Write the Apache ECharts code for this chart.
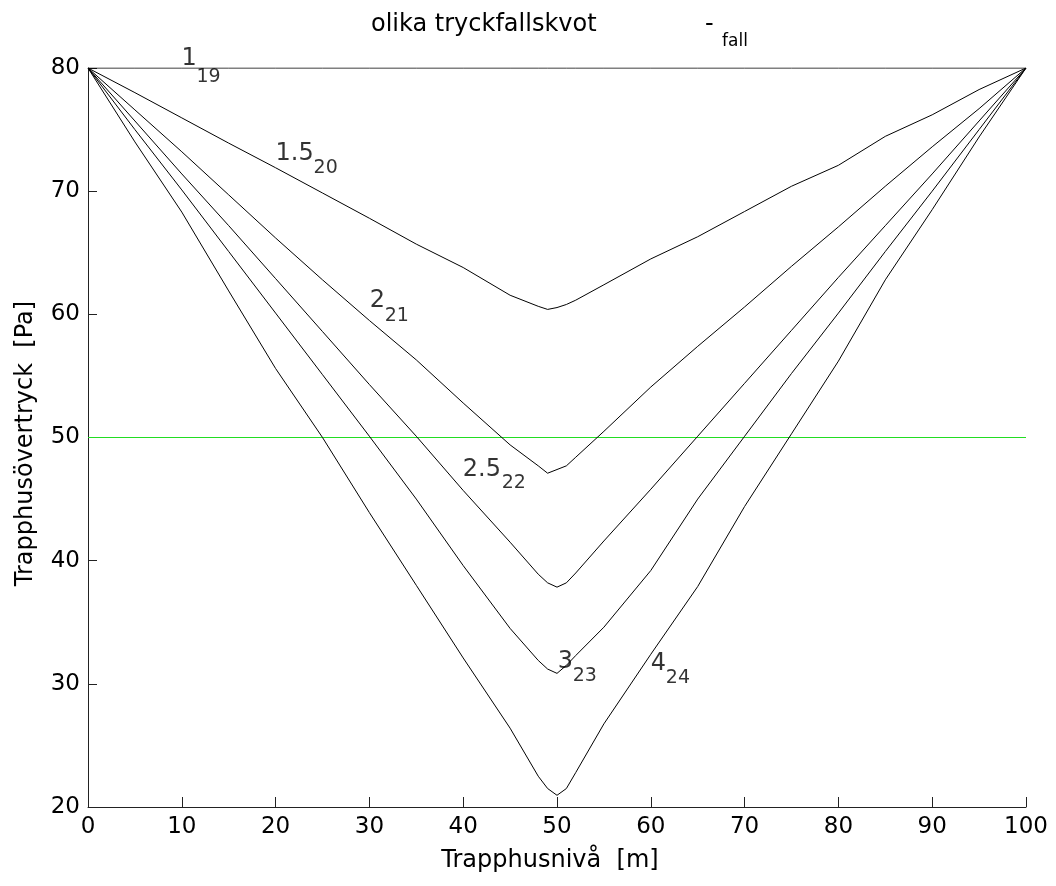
<!DOCTYPE html>
<html>
<head>
<meta charset="utf-8">
<script src="https://cdn.jsdelivr.net/npm/echarts@6/dist/echarts.min.js"></script>
<style>
html,body{margin:0;padding:0;background:#fff;}
#c{width:1056px;height:886px;}
</style>
</head>
<body>
<div id="c"></div>
<script>
const xs = [0,5,10,15,20,25,30,35,40,45,48,49,50,51,52,55,60,65,70,75,80,85,90,95,100];
const r1  = [80,80,80,80,80,80,80,80,80,80,80,80,80,80,80,80,80,80,80,80,80,80,80,80,80];
const r15 = [80,78.0,75.95,73.9,71.9,69.85,67.8,65.7,63.8,61.55,60.65,60.4,60.55,60.8,61.15,62.4,64.5,66.3,68.35,70.4,72.1,74.45,76.2,78.25,80];
const r2  = [80,76.6,73.2,69.7,66.2,62.8,59.5,56.3,52.8,49.4,47.7,47.1,47.4,47.7,48.4,50.5,54.1,57.4,60.6,63.9,67.1,70.4,73.6,76.7,80];
const r25 = [80,75.7,71.4,67.2,62.9,58.6,54.3,50.1,45.7,41.5,38.9,38.2,37.85,38.2,39.0,41.6,45.8,50.1,54.4,58.7,63.0,67.2,71.4,75.7,80];
const r3  = [80,75.0,70.1,65.1,60.1,55.1,50.1,45.0,39.6,34.5,31.9,31.2,30.85,31.5,32.3,34.6,39.2,45.0,50.1,55.2,60.1,65.1,70.0,75.0,80];
const r4  = [80,74.0,68.3,61.9,55.6,50.0,43.9,38.0,32.1,26.4,22.5,21.5,20.95,21.5,22.8,26.75,32.4,37.9,44.4,50.3,56.2,62.8,68.5,74.4,80];
const refLine = [[0,50],[100,50]];
const mainLabels = [[9.97,80.77,'1'],[20.0,73.03,'1.5'],[30.03,61.1,'2'],[39.95,47.36,'2.5'],[50.08,31.8,'3'],[60.0,31.6,'4']];
const subLabels  = [[11.57,79.23,'19'],[24.05,71.85,'20'],[31.63,59.85,'21'],[44.1,46.27,'22'],[51.68,30.66,'23'],[61.6,30.46,'24']];
const xTicks = {min:0, max:100, interval:10};
const yTicks = {min:20, max:80, interval:10};

const FF = '"DejaVu Sans", sans-serif';
function curve(vals){
  return {type:'line', data: xs.map((x,i)=>[x, vals[i]]), symbol:'none', smooth:false,
    lineStyle:{color:'#000', width:1}, z:3, silent:true};
}
function labelSeries(arr, size){
  return {type:'scatter', data: arr, symbolSize:0, z:5, silent:true, clip:false,
    label:{show:true, position:'right', distance:0, formatter:p=>p.data[2],
      fontSize:size, color:'#000', fontFamily:FF}};
}
const chart = echarts.init(document.getElementById('c'), null, {renderer:'canvas'});
chart.setOption({
  animation:false,
  backgroundColor:'#fff',
  title:[
    {text:'olika tryckfallskvot', left:366, top:8, textStyle:{fontSize:24, fontWeight:'normal', color:'#000', fontFamily:FF}},
    {text:'-', left:700, top:8, textStyle:{fontSize:24, fontWeight:'normal', color:'#000', fontFamily:FF}},
    {text:'fall', left:717, top:28, textStyle:{fontSize:17, fontWeight:'normal', color:'#000', fontFamily:FF}}
  ],
  grid:{left:88, right:30, top:68, bottom:79, containLabel:false},
  xAxis:{type:'value', min:xTicks.min, max:xTicks.max, interval:xTicks.interval,
    name:'Trapphusnivå  [m]', nameLocation:'middle', nameGap:42,
    nameTextStyle:{fontSize:24, color:'#000', fontFamily:FF, padding:[0,14,0,0]},
    axisLine:{show:true, lineStyle:{color:'#222', width:1}},
    axisTick:{show:true, inside:true, length:10, lineStyle:{color:'#222'}},
    axisLabel:{fontSize:23, color:'#000', fontFamily:FF, margin:9},
    splitLine:{show:false}},
  yAxis:{type:'value', min:yTicks.min, max:yTicks.max, interval:yTicks.interval,
    name:'Trapphusövertryck  [Pa]', nameLocation:'middle', nameGap:50,
    nameTextStyle:{fontSize:24, color:'#000', fontFamily:FF, padding:[0,12,0,0]},
    axisLine:{show:true, lineStyle:{color:'#222', width:1}},
    axisTick:{show:true, inside:true, length:9, lineStyle:{color:'#222'}},
    axisLabel:{fontSize:23, color:'#000', fontFamily:FF, margin:8},
    splitLine:{show:false}},
  series:[
    {type:'line', data:refLine, symbol:'none', lineStyle:{color:'#22dd22', width:1}, z:2, silent:true},
    curve(r1), curve(r15), curve(r2), curve(r25), curve(r3), curve(r4),
    labelSeries(mainLabels, 24),
    labelSeries(subLabels, 19)
  ]
});
</script>
</body>
</html>
